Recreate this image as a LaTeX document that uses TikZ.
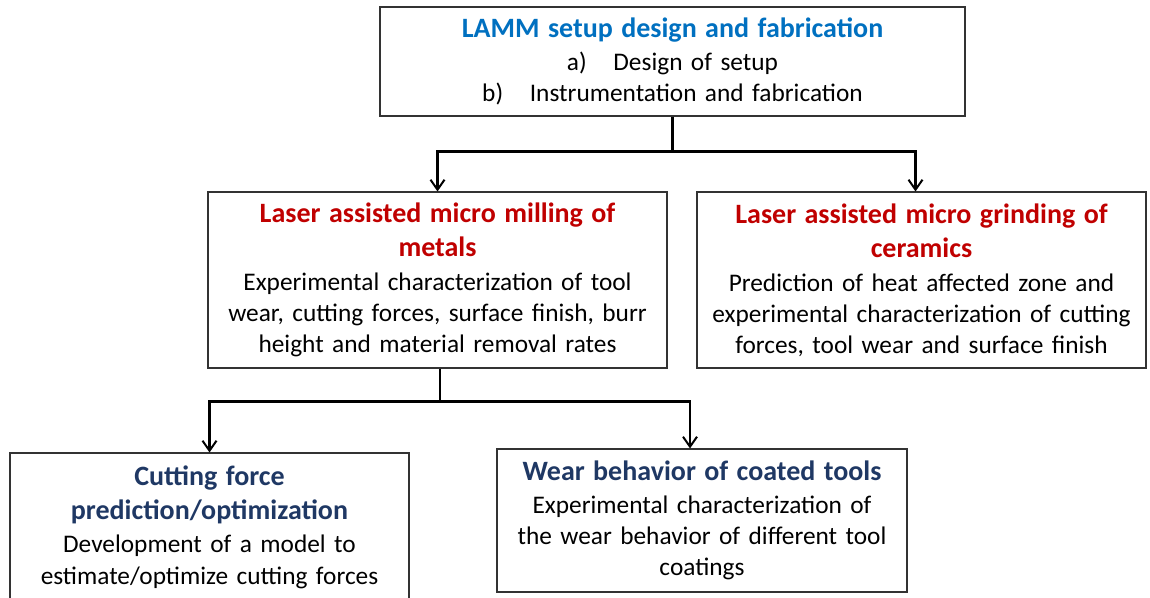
\documentclass[tikz,border=0pt]{standalone}
\usepackage{fontspec}
\setmainfont{Carlito}
\usepackage{tikz}
\usetikzlibrary{calc,arrows.meta}
\definecolor{titleblue}{RGB}{0,112,192}
\definecolor{titlered}{RGB}{192,0,0}
\definecolor{titlenavy}{RGB}{31,56,100}
\tikzstyle{textbox}=[rectangle,draw=black!80,fill=white,line width=0.8pt,
                     align=center,inner sep=0pt,
                     font=\fontsize{19}{23.25}\selectfont]
\tikzstyle{conn}=[line width=1.6pt,-{Straight Barb[length=7.5pt,width=10.5pt,line width=1.5pt]}]
\newcommand\titlefont{\fontsize{21}{25.5}\selectfont\bfseries}
\newcommand\boxlabel[3]{{\titlefont\color{#1}#2\par}\vspace{2pt}#3}

\begin{document}
\begin{tikzpicture}[x=0.75pt,y=-0.75pt]
    \useasboundingbox (0,0) rectangle (1150,598);
    	\node [textbox,text width=438.75pt,minimum height=81.75pt] (top) at (672.5,61.5) {
    		\boxlabel{titleblue}{LAMM setup design and fabrication}
    		{a)\hspace{20pt}Design of setup\\
    		 b)\hspace{20pt}Instrumentation and fabrication}
    	};
    	\node [textbox,text width=344.25pt,minimum height=132pt] (milling) at (437.5,280) {
    		\boxlabel{titlered}{Laser assisted micro milling of\\ metals}
    		{Experimental characterization of tool\\
    		 wear, cutting forces, surface finish, burr\\
    		 height and material removal rates}
    	};
    	\node [textbox,text width=336.75pt,minimum height=132pt] (grinding) at (921.5,280) {
    		\boxlabel{titlered}{Laser assisted micro grinding of\\ ceramics}
    		{Prediction of heat affected zone and\\
    		 experimental characterization of cutting\\
    		 forces, tool wear and surface finish}
    	};
    	\node [textbox,text width=299.25pt,minimum height=111pt] (cutting) at (209.5,527) {
    		\boxlabel{titlenavy}{Cutting force\\ prediction/optimization}
    		{Development of a model to\\
    		 estimate/optimize cutting forces}
    	};
    	\node [textbox,text width=307.5pt,minimum height=107.25pt] (wear) at (702,520.5) {
    		\boxlabel{titlenavy}{Wear behavior of coated tools}
    		{Experimental characterization of\\
    		 the wear behavior of different tool\\
    		 coatings}
    	};
    	% connectors
    	\draw [line width=1.6pt] (top.south) -- ++(0,35) coordinate (split1);
    	\draw [conn] (split1) -| (milling.north);
    	\draw [conn] (split1) -| ([xshift=-4.5pt]grinding.north);
    	\draw [line width=1.6pt] ([xshift=2pt]milling.south) -- ++(0,33) coordinate (split2);
    	\draw [conn] (split2) -| (cutting.north);
    	\draw [conn] (split2) -| ([xshift=-9pt]wear.north);
    \end{tikzpicture}
\end{document}
